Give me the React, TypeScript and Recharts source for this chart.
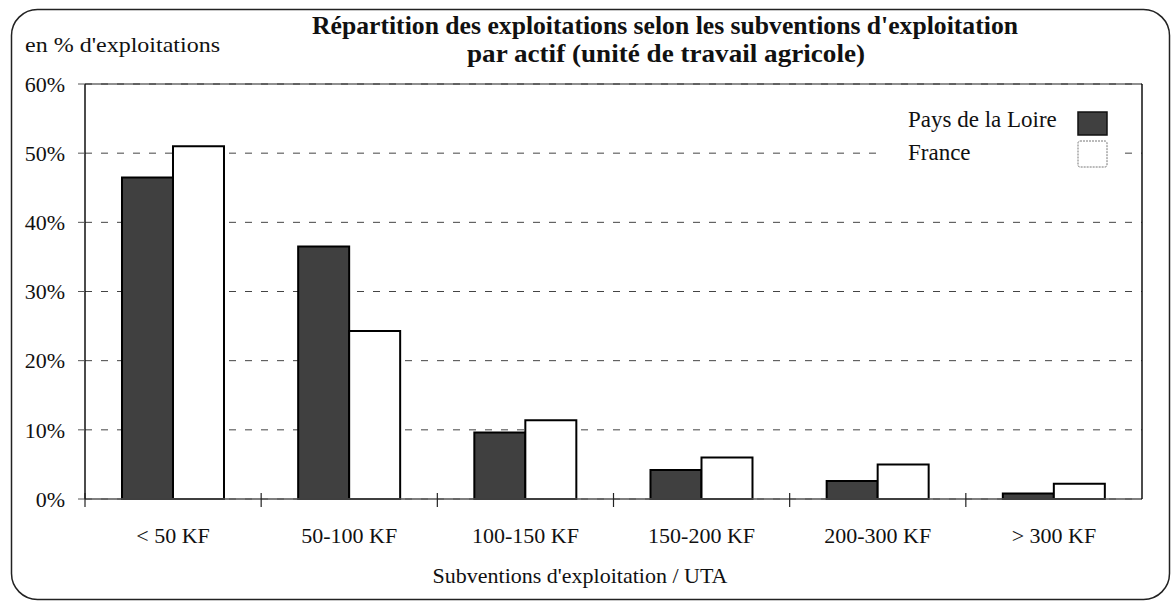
import React from 'react';
import { BarChart, Bar, XAxis, YAxis, CartesianGrid, ReferenceLine, Legend } from 'recharts';

const categories = ['< 50 KF', '50-100 KF', '100-150 KF', '150-200 KF', '200-300 KF', '> 300 KF'];
const paysDeLaLoire = [46.5, 36.5, 9.6, 4.2, 2.6, 0.8];
const france = [51.0, 24.3, 11.4, 6.0, 5.0, 2.2];
const yTicks = [0, 10, 20, 30, 40, 50, 60];
const seriesOrder = ['pdl', 'fr'];

const data = categories.map((c, i) => ({ cat: c, pdl: paysDeLaLoire[i], fr: france[i] }));

const FONT = "'Liberation Serif', 'Times New Roman', Times, serif";
const W = 1172;
const H = 605;
const PLOT_LEFT = 85;
const PLOT_RIGHT = 1142;
const BAND = (PLOT_RIGHT - PLOT_LEFT) / categories.length;

const XTick = (props: any) => {
  const { x, y, payload } = props;
  return (
    <g>
      <line x1={x - BAND / 2} x2={x - BAND / 2} y1={y - 6} y2={y + 8} stroke="#222" strokeWidth={1.2} />
      <text x={x} y={y + 44} textAnchor="middle" fontSize={22} style={{ fontFamily: FONT }} fill="#111">
        {payload.value}
      </text>
    </g>
  );
};

const renderLegend = (props: any) => {
  const payload = [...(props.payload || [])].sort(
    (a: any, b: any) => seriesOrder.indexOf(a.dataKey) - seriesOrder.indexOf(b.dataKey)
  );
  return (
    <svg width={240} height={74} style={{ overflow: 'visible', display: 'block' }}>
      <rect x={-28} y={0} width={240} height={74} fill="#fff" />
      {payload.map((e: any, i: number) => (
        <g key={i}>
          <text x={0} y={26 + 33 * i} fontSize={23} style={{ fontFamily: FONT }} fill="#111">
            {e.value}
          </text>
          <rect
            x={170}
            y={11 + 29 * i}
            width={29}
            height={i === 0 ? 23 : 26}
            rx={i === 0 ? 0 : 2}
            fill={e.color}
            stroke={i === 0 ? '#111' : '#777'}
            strokeWidth={i === 0 ? 1.5 : 1}
            strokeDasharray={i === 0 ? undefined : '2 1'}
          />
        </g>
      ))}
    </svg>
  );
};

export default function App() {
  return (
    <div style={{ position: 'absolute', left: 0, top: 0, width: W, height: H, background: '#fff', overflow: 'hidden', fontFamily: FONT }}>
      <BarChart
        width={W}
        height={H}
        data={data}
        margin={{ top: 84, right: W - PLOT_RIGHT - 1, bottom: 46, left: 10 }}
        barCategoryGap="21%"
        barGap={0}
        style={{ fontFamily: FONT }}
      >
        <CartesianGrid yAxisId="l" vertical={false} stroke="#444" strokeDasharray="7 9" strokeWidth={1} />
        <XAxis
          dataKey="cat"
          height={60}
          tick={<XTick />}
          tickLine={false}
          tickSize={0}
          tickMargin={0}
          interval={0}
          axisLine={{ stroke: '#555', strokeWidth: 1.5 }}
        />
        <YAxis
          yAxisId="l"
          width={75}
          domain={[0, 60]}
          ticks={yTicks}
          tickFormatter={(v: number) => `${v}%`}
          tick={{ fontSize: 22, fontFamily: FONT, fill: '#111' }}
          tickSize={7}
          tickMargin={13}
          tickLine={{ stroke: '#555' }}
          axisLine={{ stroke: '#111', strokeWidth: 1.5 }}
          interval={0}
        />
        <YAxis
          yAxisId="r"
          orientation="right"
          width={1}
          domain={[0, 60]}
          tick={false}
          tickLine={false}
          axisLine={{ stroke: '#111', strokeWidth: 1.5 }}
        />
        <ReferenceLine yAxisId="l" y={60} stroke="#222" strokeWidth={1.2} />
        <Legend
          layout="horizontal"
          verticalAlign="middle"
          align="center"
          content={renderLegend}
          wrapperStyle={{ left: 908, top: 101, width: 212, height: 74 }}
        />
        <Bar yAxisId="l" dataKey="pdl" name="Pays de la Loire" fill="#404040" stroke="#000" strokeWidth={2} isAnimationActive={false} />
        <Bar yAxisId="l" dataKey="fr" name="France" fill="#fff" stroke="#000" strokeWidth={2} isAnimationActive={false} />
      </BarChart>
      <svg width={W} height={H} style={{ position: 'absolute', left: 0, top: 0, pointerEvents: 'none', fontFamily: FONT }}>
        <rect x={11.5} y={9.5} width={1158} height={590} rx={26} ry={26} fill="none" stroke="#222" strokeWidth={1.5} />
        <text x={665} y={34} textAnchor="middle" fontSize={25} fontWeight="bold" fill="#111" textLength={706} lengthAdjust="spacingAndGlyphs">
          Répartition des exploitations selon les subventions d'exploitation
        </text>
        <text x={666} y={62} textAnchor="middle" fontSize={25} fontWeight="bold" fill="#111" textLength={398} lengthAdjust="spacingAndGlyphs">
          par actif (unité de travail agricole)
        </text>
        <text x={25} y={52} fontSize={22} fill="#111" textLength={195} lengthAdjust="spacingAndGlyphs">
          en % d'exploitations
        </text>
        <text x={580} y={583} textAnchor="middle" fontSize={22} fill="#111">
          Subventions d'exploitation / UTA
        </text>
      </svg>
    </div>
  );
}
